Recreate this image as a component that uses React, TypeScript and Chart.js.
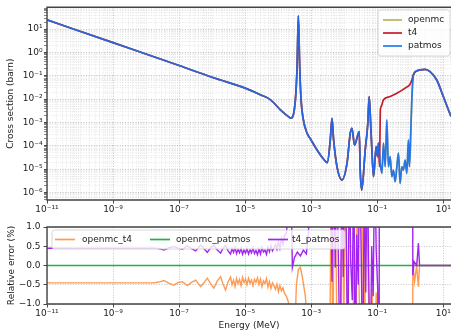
import React, { useEffect, useRef } from 'react';
import { Chart, registerables } from 'chart.js';

Chart.register(...registerables);

const FONT_FAMILY = "'DejaVu Sans', 'Liberation Sans', sans-serif";
Chart.defaults.font.family = FONT_FAMILY;
Chart.defaults.font.size = 9;
Chart.defaults.color = '#222';

// ---------- Cross sections: energy (MeV) / cross section (barn) ----------
// shared by all codes up to ~0.11 MeV
const commonEnergy = [1e-11, 1e-9, 1e-7, 1e-6, 1.82e-6, 1e-5, 3.0e-5, 5.89e-5, 1.17e-4, 2.04e-4, 2.44e-4, 3.33e-4, 3.75e-4, 4.10e-4, 4.50e-4, 4.95e-4, 5.69e-4, 7.52e-4, 9.46e-4, 1.51e-3, 2.40e-3, 3.09e-3, 3.80e-3, 4.28e-3, 4.79e-3, 6.07e-3, 8.57e-3, 1.22e-2, 1.53e-2, 1.72e-2, 2.06e-2, 2.86e-2, 3.06e-2, 3.40e-2, 4.34e-2, 5.16e-2, 5.73e-2, 6.37e-2, 6.92e-2, 7.73e-2, 9.33e-2, 0.102, 0.109];
const commonXS = [25, 2.63, 0.275, 0.087, 0.066, 0.0295, 0.0151, 0.0093, 0.00347, 0.00178, 0.00151, 0.0093, 0.245, 37.2, 0.245, 0.0093, 0.00151, 3.47e-4, 2.0e-4, 6.6e-5, 2.63e-5, 1.9e-5, 1.78e-4, 1.51e-3, 1.78e-4, 1.26e-5, 3.39e-6, 1.78e-5, 3.47e-4, 5.6e-4, 1.07e-4, 4.07e-4, 9.1e-6, 1.26e-6, 6.6e-5, 7.8e-4, 0.0129, 7.8e-4, 6.6e-5, 4.7e-6, 9.1e-5, 3.4e-5, 1.29e-4];

// patmos (and openmc) between 0.11 and 1.1 MeV
const patmosTailEnergy = [0.123, 0.139, 0.155, 0.175, 0.196, 0.219, 0.247, 0.278, 0.310, 0.350, 0.394, 0.441, 0.495, 0.557, 0.624, 0.701, 0.789, 0.883, 0.946, 1.04, 1.12];
const patmosTailXS = [1.78e-5, 6.6e-6, 1.29e-4, 1.26e-5, 1.29e-3, 1.26e-5, 3.4e-5, 4.7e-6, 9.1e-6, 2.9e-6, 1.26e-5, 4.8e-5, 2.45e-6, 1.26e-5, 9.1e-6, 2.45e-5, 6.6e-6, 1.78e-4, 1.26e-5, 3.47e-4, 9.3e-3];

// t4 between 0.11 and 1.1 MeV
const t4TailEnergy = [0.1175, 0.125, 0.132, 0.155, 0.247, 0.394, 0.701, 1.0, 1.12];
const t4TailXS = [1.26e-5, 3.47e-3, 4.8e-3, 9.3e-3, 0.0129, 0.0178, 0.0295, 0.0447, 0.066];

// shared above 1.2 MeV
const highEnergy = [1.25, 1.58, 1.99, 2.82, 3.99, 6.37, 10.07, 17.2, 20];
const highXS = [0.110, 0.162, 0.178, 0.19, 0.151, 0.066, 0.0129, 1.82e-3, 1.1e-3];

// ---------- Relative errors (%) ----------
const openmcT4Energy = [1e-11, 1.71e-8, 2.42e-8, 3.50e-8, 4.85e-8, 7.02e-8, 9.40e-8, 1.26e-7, 1.78e-7, 2.37e-7, 3.18e-7, 4.50e-7, 5.65e-7, 7.16e-7, 9.02e-7, 1.13e-6, 1.44e-6, 1.81e-6, 2.15e-6, 2.56e-6, 3.04e-6,
  3.62e-6, 4.02e-6, 4.47e-6, 4.95e-6, 5.50e-6, 6.10e-6, 6.78e-6, 7.52e-6, 8.34e-6, 9.27e-6, 1.03e-5, 1.14e-5, 1.27e-5, 1.41e-5, 1.56e-5, 1.73e-5, 1.92e-5, 2.13e-5, 2.37e-5, 2.63e-5, 2.92e-5, 3.24e-5, 3.60e-5, 3.99e-5, 4.44e-5, 4.92e-5, 5.46e-5, 6.05e-5, 6.73e-5, 7.46e-5, 8.28e-5, 9.20e-5, 1.02e-4, 1.13e-4, 1.26e-4, 1.40e-4, 1.55e-4, 1.78e-4,
  2.05e-4, 2.36e-4, 2.90e-4, 3.57e-4, 4.10e-4, 4.72e-4, 5.42e-4, 6.68e-4, 8.22e-4, 1.25e-3, 2.18e-3, 3.55e-3, 4.07e-3, 4.53e-3, 5.02e-3, 5.77e-3, 6.19e-3, 7.62e-3, 8.77e-3, 9.73e-3, 1.08e-2, 1.24e-2, 1.43e-2, 1.76e-2, 2.02e-2, 2.16e-2, 2.49e-2, 2.86e-2, 3.29e-2, 3.78e-2, 4.19e-2, 4.66e-2, 5.35e-2, 6.15e-2, 7.06e-2, 8.11e-2, 9.33e-2, 0.107, 0.123, 1.06, 1.20, 1.36, 1.56, 1.77, 1.92, 20];
const openmcT4Err = [-0.45, -0.45, -0.43, -0.39, -0.46, -0.51, -0.44, -0.42, -0.52, -0.44, -0.38, -0.55, -0.45, -0.33, -0.47, -0.59, -0.40, -0.29, -0.48, -0.64, -0.42,
  -0.30, -0.50, -0.38, -0.55, -0.34, -0.47, -0.36, -0.52, -0.31, -0.44, -0.35, -0.50, -0.33, -0.46, -0.38, -0.53, -0.36, -0.44, -0.32, -0.49, -0.35, -0.55, -0.40, -0.47, -0.34, -0.56, -0.42, -0.60, -0.45, -0.52, -0.62, -0.48, -0.68, -0.52, -0.66, -0.58, -0.72, -0.80,
  -0.95, -1.6, -3, -0.5, -0.1, -0.05, -0.3, -0.8, -2, -5, -5, -4, 3, -3, 2.5, -0.2, -3, -3, 3, -2, 3, -0.6, -4, -3, 0.5, -3, 2, -0.8, -3, 4, -2, 3, -0.4, -3, -0.6, -4, -0.7, -3, -50, -50, 0.05, -0.42, 0, -0.55, 0, 0];

const openmcPatmosEnergy = [1e-11, 20];
const openmcPatmosErr = [0, 0];

const t4PatmosEnergy = [1e-11, 1.71e-8, 2.42e-8, 3.50e-8, 4.85e-8, 7.02e-8, 9.40e-8, 1.26e-7, 1.78e-7, 2.37e-7, 3.18e-7, 4.50e-7, 5.65e-7, 7.16e-7, 9.02e-7, 1.13e-6, 1.44e-6, 1.81e-6, 2.15e-6, 2.56e-6, 3.04e-6,
  3.62e-6, 4.02e-6, 4.47e-6, 4.95e-6, 5.50e-6, 6.10e-6, 6.78e-6, 7.52e-6, 8.34e-6, 9.27e-6, 1.03e-5, 1.14e-5, 1.27e-5, 1.41e-5, 1.56e-5, 1.73e-5, 1.92e-5, 2.13e-5, 2.37e-5, 2.63e-5, 2.92e-5, 3.24e-5, 3.60e-5, 3.99e-5, 4.44e-5, 4.92e-5, 5.46e-5, 6.05e-5, 6.73e-5, 7.46e-5, 8.28e-5, 9.20e-5, 1.02e-4, 1.13e-4, 1.26e-4, 1.40e-4, 1.55e-4, 1.78e-4,
  2.05e-4, 2.36e-4, 2.70e-4, 3.10e-4, 3.83e-4, 4.72e-4, 5.81e-4, 7.16e-4, 8.22e-4, 9.46e-4, 1.44e-3, 2.88e-3, 3.80e-3, 4.28e-3, 4.69e-3, 5.38e-3, 5.97e-3, 6.64e-3, 7.62e-3, 8.45e-3, 9.40e-3, 1.04e-2, 1.16e-2, 1.29e-2, 1.43e-2, 1.58e-2, 1.76e-2, 1.95e-2, 2.16e-2, 2.40e-2, 2.67e-2, 2.96e-2, 3.29e-2, 3.65e-2, 4.05e-2, 4.50e-2, 4.99e-2, 5.53e-2, 6.15e-2, 6.82e-2, 7.57e-2, 8.39e-2, 9.33e-2, 0.1035, 0.1148, 0.123, 1.06, 1.20, 1.31, 1.58, 1.77, 1.92, 20];
const t4PatmosErr = [0.45, 0.45, 0.44, 0.40, 0.46, 0.49, 0.45, 0.42, 0.51, 0.44, 0.38, 0.53, 0.44, 0.34, 0.46, 0.53, 0.40, 0.32, 0.45, 0.52, 0.38,
  0.30, 0.44, 0.34, 0.47, 0.31, 0.42, 0.33, 0.45, 0.29, 0.40, 0.32, 0.44, 0.30, 0.41, 0.33, 0.46, 0.31, 0.39, 0.28, 0.43, 0.30, 0.47, 0.35, 0.40, 0.29, 0.48, 0.36, 0.52, 0.38, 0.45, 0.55, 0.42, 0.62, 0.45, 0.70, 0.55, 0.78, 0.85,
  1.4, 3, -0.05, 0.2, 0.35, 0.25, 0.4, 0.3, 0.8, 2, 5, 5, 3, -0.42, 3, -0.05, 3, 0.3, -3, 3, -0.3, 4, 0.6, -3, 3, 0.1, -0.9, 3, -3, 0.8, -0.5, 3, 0.2, -3, 2, -0.7, 3, -0.2, -3, 0.5, -0.8, 3, 0.4, -0.6, -4, 50, 50, -0.25, 0.1, 0, 0.58, 0, 0];

// ---------- Axes ----------
const xMin = 1e-11;
const xMax = 17.2;
const xLabelExponents = [-11, -9, -7, -5, -3, -1, 1];
const xsMin = 4.72e-7;
const xsMax = 86.3;
const xsLabelExponents = [-6, -5, -4, -3, -2, -1, 0, 1];
const errTicks = [-1, -0.5, 0, 0.5, 1];

// ---------- Styles ----------
const OPENMC_COLOR = '#bfb15c';
const T4_COLOR = '#c51a2a';
const PATMOS_COLOR = 'rgba(20,112,245,0.9)';
const PATMOS_LEGEND = '#1e7cf5';
const OT4_COLOR = '#ff9a50';
const OP_COLOR = '#22b04a';
const TP_COLOR = '#a224f0';
const MAJOR_GRID = '#b4b4b4';
const MINOR_GRID = '#dedede';
const GRID_DASH = [1, 1.6];

const SUP: Record<string, string> = { '-': '\u207B', '0': '\u2070', '1': '\u00B9', '2': '\u00B2', '3': '\u00B3', '4': '\u2074', '5': '\u2075', '6': '\u2076', '7': '\u2077', '8': '\u2078', '9': '\u2079' };
const powLabel = (e: number) => '10' + String(e).split('').map((c) => SUP[c]).join('');
const decadeOf = (v: number): number | null => {
  const l = Math.log10(v);
  return Math.abs(l - Math.round(l)) < 1e-6 ? Math.round(l) : null;
};

const logTicks = (min: number, max: number) => {
  const out: { value: number }[] = [];
  for (let e = Math.floor(Math.log10(min)); e <= Math.ceil(Math.log10(max)); e++) {
    for (let k = 1; k <= 9; k++) {
      const v = k * Math.pow(10, e);
      if (v >= min * 0.999 && v <= max * 1.001) out.push({ value: v });
    }
  }
  return out;
};

const toPoints = (xs: number[], ys: number[]) => xs.map((x, i) => ({ x, y: ys[i] }));

type LegendItem = { label: string; color: string; lx1: number; lx2: number; tx: number; y: number };
type LegendBox = { x: number; y: number; w: number; h: number; items: LegendItem[] };

const roundRectPath = (ctx: CanvasRenderingContext2D, x: number, y: number, w: number, h: number, r: number) => {
  ctx.beginPath();
  ctx.moveTo(x + r, y);
  ctx.lineTo(x + w - r, y);
  ctx.arcTo(x + w, y, x + w, y + r, r);
  ctx.lineTo(x + w, y + h - r);
  ctx.arcTo(x + w, y + h, x + w - r, y + h, r);
  ctx.lineTo(x + r, y + h);
  ctx.arcTo(x, y + h, x, y + h - r, r);
  ctx.lineTo(x, y + r);
  ctx.arcTo(x, y, x + r, y, r);
  ctx.closePath();
};

const decoPlugin = (legend: LegendBox) => ({
  id: 'deco',
  afterDraw(chart: any) {
    const { ctx, chartArea: a } = chart;
    ctx.save();
    // spines
    ctx.strokeStyle = '#444';
    ctx.lineWidth = 1.4;
    ctx.beginPath();
    ctx.moveTo(a.right + 2, a.top);
    ctx.lineTo(a.left, a.top);
    ctx.lineTo(a.left, a.bottom);
    ctx.lineTo(a.right + 2, a.bottom);
    ctx.stroke();
    // legend
    roundRectPath(ctx, legend.x, legend.y, legend.w, legend.h, 2.5);
    ctx.fillStyle = 'rgba(255,255,255,0.8)';
    ctx.fill();
    ctx.strokeStyle = '#cccccc';
    ctx.lineWidth = 0.8;
    ctx.stroke();
    ctx.font = `9px ${FONT_FAMILY}`;
    ctx.textBaseline = 'middle';
    ctx.textAlign = 'left';
    legend.items.forEach((it) => {
      ctx.strokeStyle = it.color;
      ctx.lineWidth = 1.7;
      ctx.beginPath();
      ctx.moveTo(it.lx1, it.y);
      ctx.lineTo(it.lx2, it.y);
      ctx.stroke();
      ctx.fillStyle = '#222';
      ctx.fillText(it.label, it.tx, it.y);
    });
    ctx.restore();
  },
});

const lineDs = (label: string, xs: number[], ys: number[], color: string, width: number, smooth: boolean) => ({
  label,
  data: toPoints(xs, ys),
  borderColor: color,
  backgroundColor: color,
  borderWidth: width,
  pointRadius: 0,
  tension: 0,
  cubicInterpolationMode: smooth ? 'monotone' : 'default',
  fill: false,
});

const xScale = (height: number, withTitle: boolean, minorGrid: boolean) => ({
  type: 'logarithmic',
  min: xMin,
  max: xMax,
  afterBuildTicks: (axis: any) => {
    const all = logTicks(xMin, xMax);
    axis.ticks = minorGrid ? all : all.filter((t) => {
      const d = decadeOf(t.value);
      return d !== null && xLabelExponents.includes(d);
    });
  },
  afterFit: (s: any) => {
    s.height = height;
    s.paddingLeft = 0;
    s.paddingRight = 0;
  },
  ticks: {
    autoSkip: false,
    maxRotation: 0,
    minRotation: 0,
    padding: 0.5,
    color: '#222',
    font: { size: 9 },
    callback: (v: number) => {
      const d = decadeOf(v);
      return d !== null && xLabelExponents.includes(d) ? powLabel(d) : '';
    },
  },
  grid: {
    color: (c: any) => {
      const d = c.tick ? decadeOf(c.tick.value) : null;
      return d !== null && xLabelExponents.includes(d) ? MAJOR_GRID : MINOR_GRID;
    },
    lineWidth: 0.8,
    tickLength: 3.5,
    tickWidth: 0.9,
    tickColor: (c: any) => {
      const d = c.tick ? decadeOf(c.tick.value) : null;
      return d !== null && xLabelExponents.includes(d) ? '#333' : 'rgba(0,0,0,0)';
    },
  },
  border: { display: false, dash: GRID_DASH },
  title: {
    display: withTitle,
    text: 'Energy (MeV)',
    color: '#222',
    font: { size: 9 },
    padding: { top: 0, bottom: 0 },
  },
});

const topConfig = (): any => {
  const patmosEnergy = [...commonEnergy, ...patmosTailEnergy, ...highEnergy];
  const patmosXS = [...commonXS, ...patmosTailXS, ...highXS];
  const t4Energy = [...commonEnergy, ...t4TailEnergy, ...highEnergy];
  const t4XS = [...commonXS, ...t4TailXS, ...highXS];
  const openmcEnergy = patmosEnergy;
  const openmcXS = patmosXS;
  return {
    type: 'line',
    data: {
      datasets: [
        lineDs('patmos', patmosEnergy, patmosXS, PATMOS_COLOR, 1.7, true),
        lineDs('t4', t4Energy, t4XS, T4_COLOR, 1.7, true),
        lineDs('openmc', openmcEnergy, openmcXS, OPENMC_COLOR, 1.7, true),
      ],
    },
    options: {
      animation: false,
      responsive: false,
      devicePixelRatio: 1,
      layout: { padding: { top: 7.3, right: 0, bottom: 0, left: 0 } },
      plugins: { legend: { display: false }, tooltip: { enabled: false } },
      scales: {
        x: xScale(15, false, true),
        y: {
          type: 'logarithmic',
          min: xsMin,
          max: xsMax,
          afterBuildTicks: (axis: any) => {
            axis.ticks = logTicks(xsMin, xsMax);
          },
          afterFit: (s: any) => {
            s.width = 47;
            s.paddingTop = 0;
            s.paddingBottom = 0;
          },
          ticks: {
            autoSkip: false,
            padding: 1.5,
            color: '#222',
            font: { size: 9 },
            callback: (v: number) => {
              const d = decadeOf(v);
              return d !== null && xsLabelExponents.includes(d) ? powLabel(d) : '';
            },
          },
          grid: {
            color: (c: any) => (c.tick && decadeOf(c.tick.value) !== null ? MAJOR_GRID : MINOR_GRID),
            lineWidth: 0.8,
            tickLength: 3,
            tickWidth: (c: any) => (c.tick && decadeOf(c.tick.value) !== null ? 0.9 : 0.6),
            tickColor: '#333',
          },
          border: { display: false, dash: GRID_DASH },
          title: {
            display: true,
            text: 'Cross section (barn)',
            color: '#222',
            font: { size: 9 },
            padding: { top: 5.5, bottom: 0 },
          },
        },
      },
    },
    plugins: [
      decoPlugin({
        x: 378,
        y: 10,
        w: 72,
        h: 46,
        items: [
          { label: 'openmc', color: OPENMC_COLOR, lx1: 383, lx2: 402, tx: 408, y: 20 },
          { label: 't4', color: T4_COLOR, lx1: 383, lx2: 402, tx: 408, y: 33 },
          { label: 'patmos', color: PATMOS_LEGEND, lx1: 383, lx2: 402, tx: 408, y: 46 },
        ],
      }),
    ],
  };
};

const bottomConfig = (): any => ({
  type: 'line',
  data: {
    datasets: [
      lineDs('t4_patmos', t4PatmosEnergy, t4PatmosErr, TP_COLOR, 1.4, false),
      lineDs('openmc_patmos', openmcPatmosEnergy, openmcPatmosErr, OP_COLOR, 1.4, false),
      lineDs('openmc_t4', openmcT4Energy, openmcT4Err, OT4_COLOR, 1.4, false),
    ],
  },
  options: {
    animation: false,
    responsive: false,
    devicePixelRatio: 1,
    layout: { padding: { top: 12, right: 0, bottom: 0, left: 0 } },
    plugins: { legend: { display: false }, tooltip: { enabled: false } },
    scales: {
      x: xScale(27, true, false),
      y: {
        type: 'linear',
        min: -1,
        max: 1,
        afterBuildTicks: (axis: any) => {
          axis.ticks = errTicks.map((v) => ({ value: v }));
        },
        afterFit: (s: any) => {
          s.width = 47;
          s.paddingTop = 0;
          s.paddingBottom = 0;
        },
        ticks: {
          autoSkip: false,
          padding: 3,
          color: '#222',
          font: { size: 9 },
          callback: (v: number) => (Math.abs(v) < 1e-9 ? '0.0' : v.toFixed(1).replace('-', '\u2212')),
        },
        grid: {
          color: MAJOR_GRID,
          lineWidth: 0.8,
          tickLength: 3.5,
          tickWidth: 0.9,
          tickColor: '#333',
        },
        border: { display: false, dash: GRID_DASH },
        title: {
          display: true,
          text: 'Relative error (%)',
          color: '#222',
          font: { size: 9 },
          padding: { top: 6, bottom: 0 },
        },
      },
    },
  },
  plugins: [
    decoPlugin({
      x: 52,
      y: 15,
      w: 293,
      h: 19,
      items: [
        { label: 'openmc_t4', color: OT4_COLOR, lx1: 55, lx2: 75, tx: 82, y: 24.5 },
        { label: 'openmc_patmos', color: OP_COLOR, lx1: 150, lx2: 170, tx: 176, y: 24.5 },
        { label: 't4_patmos', color: TP_COLOR, lx1: 268, lx2: 288, tx: 292, y: 24.5 },
      ],
    }),
  ],
});

export default function App() {
  const topRef = useRef<HTMLCanvasElement>(null);
  const botRef = useRef<HTMLCanvasElement>(null);
  useEffect(() => {
    const top = new Chart(topRef.current as HTMLCanvasElement, topConfig());
    const bot = new Chart(botRef.current as HTMLCanvasElement, bottomConfig());
    return () => {
      top.destroy();
      bot.destroy();
    };
  }, []);
  return (
    <div style={{ position: 'fixed', left: 0, top: 0, width: 451, height: 331, background: '#fff', overflow: 'hidden' }}>
      <canvas ref={topRef} width={451} height={215} style={{ position: 'absolute', left: 0, top: 0, width: 451, height: 215 }} />
      <canvas ref={botRef} width={451} height={116} style={{ position: 'absolute', left: 0, top: 215, width: 451, height: 116 }} />
    </div>
  );
}
